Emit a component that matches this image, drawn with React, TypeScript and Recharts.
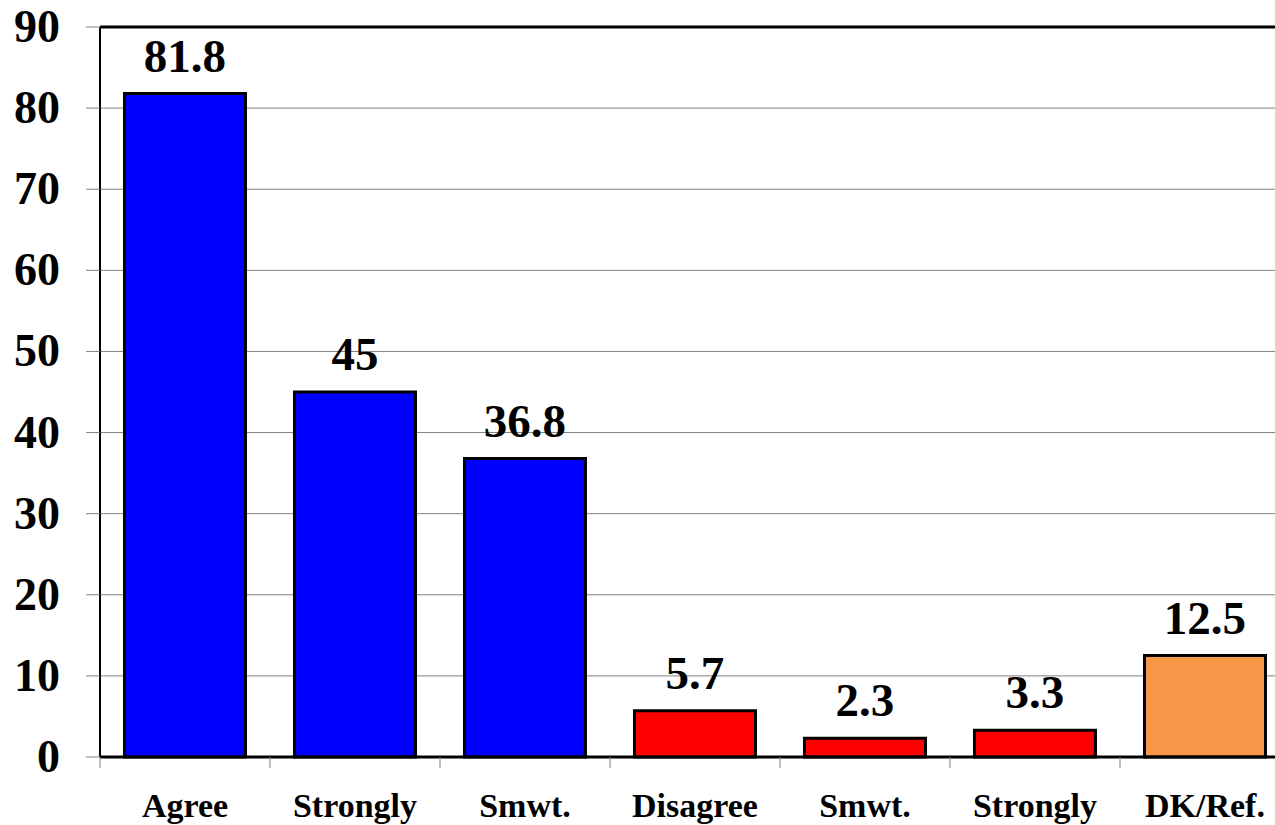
import React from "react";
import { BarChart, Bar, XAxis, YAxis, CartesianGrid, Cell, LabelList, ReferenceLine } from "recharts";

const categories = ["Agree", "Strongly", "Smwt.", "Disagree", "Smwt.", "Strongly", "DK/Ref."];
const values = [81.8, 45, 36.8, 5.7, 2.3, 3.3, 12.5];
const barColors = ["#0000FF", "#0000FF", "#0000FF", "#FF0000", "#FF0000", "#FF0000", "#F79646"];
const yTicks = [0, 10, 20, 30, 40, 50, 60, 70, 80, 90];

const data = categories.map((c, i) => ({ key: `${c}-${i}`, name: c, value: values[i] }));

const FONT = "Liberation Serif";
const X_TICK_SIZE = 6;
const X_TICK_MARGIN = 30;

function XTick(props: any) {
  const { x, y, index, width, visibleTicksCount } = props;
  const n = visibleTicksCount || categories.length;
  const bw = width / n;
  const axisY = y - X_TICK_SIZE - X_TICK_MARGIN;
  const left = x - bw / 2;
  const right = x + bw / 2;
  return (
    <g>
      <line x1={left} y1={axisY} x2={left} y2={axisY + 11} stroke="#808080" strokeWidth={1} />
      {index === n - 1 && (
        <line x1={right} y1={axisY} x2={right} y2={axisY + 11} stroke="#808080" strokeWidth={1} />
      )}
      <text
        x={x}
        y={y}
        dy={24}
        textAnchor="middle"
        fill="#000"
        fontFamily={FONT}
        fontWeight="bold"
        fontSize={34}
      >
        {categories[index]}
      </text>
    </g>
  );
}

function YTick(props: any) {
  const { x, y, payload } = props;
  return (
    <text x={x} y={y} dy={15} textAnchor="end" fill="#000" fontFamily={FONT} fontWeight="bold" fontSize={46}>
      {payload.value}
    </text>
  );
}

function ValueLabel(props: any) {
  const { x, y, width, value } = props;
  return (
    <text x={x + width / 2} y={y - 22} textAnchor="middle" fill="#000" fontFamily={FONT} fontWeight="bold" fontSize={47}>
      {value}
    </text>
  );
}

export default function App() {
  return (
    <div style={{ position: "absolute", left: 0, top: 0, width: 1275, height: 825, overflow: "hidden", background: "#fff" }}>
      <BarChart
        width={1300}
        height={825}
        data={data}
        margin={{ top: 27, right: 10, bottom: 0, left: 0 }}
        barCategoryGap="14.4%"
      >
        <CartesianGrid horizontal={true} vertical={false} stroke="#808080" strokeWidth={1} />
        <XAxis
          dataKey="key"
          height={68}
          tickLine={false}
          axisLine={{ stroke: "#000", strokeWidth: 3 }}
          tickSize={X_TICK_SIZE}
          tickMargin={X_TICK_MARGIN}
          tick={<XTick />}
          interval={0}
        />
        <YAxis
          width={100}
          domain={[0, 90]}
          ticks={yTicks}
          interval={0}
          axisLine={{ stroke: "#000", strokeWidth: 2 }}
          tickLine={{ stroke: "#808080", strokeWidth: 1 }}
          tickSize={14}
          tickMargin={26}
          tick={<YTick />}
        />
        <ReferenceLine y={90} stroke="#000" strokeWidth={3} ifOverflow="visible" />
        <Bar dataKey="value" isAnimationActive={false} stroke="#000" strokeWidth={3}>
          {data.map((d, i) => (
            <Cell key={d.key} fill={barColors[i]} />
          ))}
          <LabelList dataKey="value" content={<ValueLabel />} />
        </Bar>
      </BarChart>
    </div>
  );
}
